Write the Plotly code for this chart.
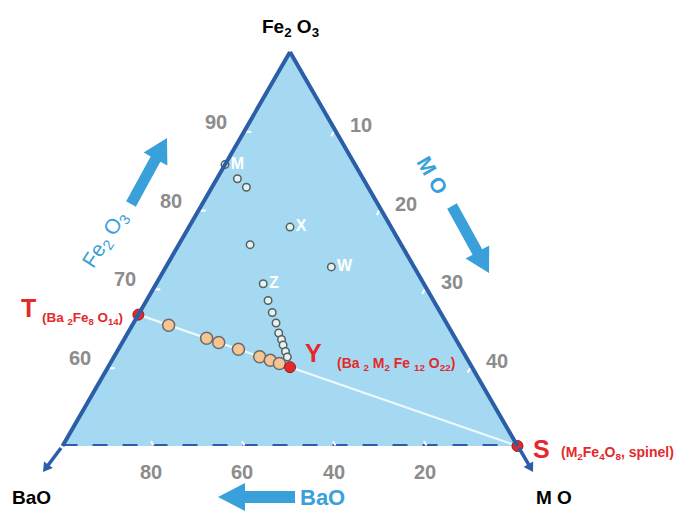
import plotly.graph_objects as go

W, H = 680, 511

# Phase compositions in mol % (Fe2O3, BaO, MO)
phase_names = ["M", "X", "W", "Z"]
phase_fe2o3 = [85.71, 77.78, 72.73, 70.59]
phase_bao = [14.29, 11.11, 9.09, 17.65]
phase_mo = [0.0, 11.11, 18.18, 11.76]

# Intermediate hollow-point compositions
mid_fe2o3 = [83.92, 82.83, 75.55, 68.46, 66.94, 65.61, 64.34, 63.52, 62.82, 61.99, 61.29]
mid_bao = [13.82, 13.38, 16.61, 18.18, 18.48, 18.73, 19.07, 19.17, 19.35, 19.50, 19.65]
mid_mo = [2.26, 3.79, 7.84, 13.36, 14.58, 15.66, 16.59, 17.31, 17.83, 18.51, 19.06]

# Compositions along the T–Y tie line
tie_fe2o3 = [65.33, 63.67, 63.13, 62.27, 61.33, 60.87, 60.47]
tie_bao = [30.67, 27.33, 26.27, 24.53, 22.67, 21.73, 20.93]
tie_mo = [4.0, 9.0, 10.6, 13.2, 16.0, 17.4, 18.6]

# Reference compounds T, Y, S
ref_names = ["T", "Y", "S"]
ref_fe2o3 = [66.67, 60.0, 50.0]
ref_bao = [33.33, 20.0, 0.0]
ref_mo = [0.0, 20.0, 50.0]

# Tick values and labels
fe_ticks = [60, 70, 80, 90]
fe_ticktext = ["60", "70", "80", "90"]
bao_ticks = [10, 20, 30, 40]
bao_ticktext = ["20", "40", "60", "80"]
mo_ticks = [10, 20, 30, 40]
mo_ticktext = ["10", "20", "30", "40"]

EDGE = "#2c5ea8"
FILL = "#a5d9f2"
ARROW = "#3aa0da"
RED = "#e3292b"
GRAYTXT = "#8c8c8c"

# triangle placement (pixels): apex, lower-left, lower-right
X0, X1, YTOP, YBASE = 62, 518, 52, 446
A_MIN = 50

fig = go.Figure()

# dashed base (Fe2O3 = 50 %)
fig.add_trace(go.Scatterternary(
    a=[ref_fe2o3[2], ref_fe2o3[2]], b=[ref_fe2o3[2], ref_bao[2]], c=[ref_mo[0], ref_mo[2]],
    mode="lines", line=dict(color=EDGE, width=4, dash="15px,15px"),
    cliponaxis=False, hoverinfo="skip"))

# T–S tie line
fig.add_trace(go.Scatterternary(
    a=[ref_fe2o3[0], ref_fe2o3[2]], b=[ref_bao[0], ref_bao[2]], c=[ref_mo[0], ref_mo[2]],
    mode="lines", line=dict(color="#eef8fd", width=2.2),
    cliponaxis=False, hoverinfo="skip"))

# hollow points
fig.add_trace(go.Scatterternary(
    a=mid_fe2o3, b=mid_bao, c=mid_mo, mode="markers",
    marker=dict(size=7.5, color="#e4f2f1", line=dict(color="#55605f", width=1.5)),
    cliponaxis=False))

fig.add_trace(go.Scatterternary(
    a=phase_fe2o3, b=phase_bao, c=phase_mo, mode="markers+text",
    text=phase_names, textposition="middle right",
    textfont=dict(family="Liberation Sans", size=16, color="white", weight="bold"),
    marker=dict(size=7.5, color="#e4f2f1", line=dict(color="#55605f", width=1.5)),
    cliponaxis=False))

# tie-line points
fig.add_trace(go.Scatterternary(
    a=tie_fe2o3, b=tie_bao, c=tie_mo, mode="markers",
    marker=dict(size=12, color="#f7c594", line=dict(color="#6b6b6b", width=1.5)),
    cliponaxis=False))

# reference compounds
fig.add_trace(go.Scatterternary(
    a=ref_fe2o3, b=ref_bao, c=ref_mo, mode="markers",
    marker=dict(size=11, color=RED, line=dict(color="#9a1a1a", width=1)),
    cliponaxis=False))

axis_common = dict(
    showgrid=False, ticks="inside", ticklen=5, tickwidth=1.5, tickcolor="white",
    showticklabels=False, linecolor=EDGE, linewidth=4, title=dict(text=""),
    tickmode="array",
)

fig.update_layout(
    width=W, height=H, autosize=False,
    margin=dict(l=0, r=0, t=0, b=0),
    paper_bgcolor="white", showlegend=False,
    ternary=dict(
        sum=100, bgcolor=FILL,
        domain=dict(x=[X0 / W, X1 / W], y=[(H - YBASE) / H, (H - YTOP) / H]),
        aaxis=dict(axis_common, min=A_MIN, tickvals=fe_ticks),
        baxis=dict(axis_common, min=0, tickvals=bao_ticks, showline=False),
        caxis=dict(axis_common, min=0, tickvals=mo_ticks),
    ),
)


def px(x, y):
    return x / W, 1 - y / H


def tern_px(a, c):
    # pixel position of a composition inside the triangle
    la = (a - A_MIN) / (100 - A_MIN)
    lc = c / (100 - A_MIN)
    return X0 + (X1 - X0) * (lc + 0.5 * la), YBASE - (YBASE - YTOP) * la


def label(x, y, text, size, color, bold=True, angle=0, xanchor="center"):
    xp, yp = px(x, y)
    fig.add_annotation(
        x=xp, y=yp, xref="paper", yref="paper", text=text, showarrow=False,
        xanchor=xanchor, yanchor="middle", textangle=angle,
        font=dict(family="Liberation Sans", size=size, color=color,
                  weight="bold" if bold else "normal"))


def arrow(tail, head, shaft_w, head_w, head_len, color):
    # filled block arrow drawn as a closed path
    (x0, y0), (x1, y1) = tail, head
    dx, dy = x1 - x0, y1 - y0
    n = (dx * dx + dy * dy) ** 0.5
    ux, uy = dx / n, dy / n
    nx, ny = -uy, ux
    bx, by = x1 - ux * head_len, y1 - uy * head_len
    pts = [
        (x0 + nx * shaft_w / 2, y0 + ny * shaft_w / 2),
        (bx + nx * shaft_w / 2, by + ny * shaft_w / 2),
        (bx + nx * head_w / 2, by + ny * head_w / 2),
        (x1, y1),
        (bx - nx * head_w / 2, by - ny * head_w / 2),
        (bx - nx * shaft_w / 2, by - ny * shaft_w / 2),
        (x0 - nx * shaft_w / 2, y0 - ny * shaft_w / 2),
    ]
    path = "M " + " L ".join("%.5f,%.5f" % px(x, y) for x, y in pts) + " Z"
    fig.add_shape(type="path", xref="paper", yref="paper", path=path,
                  fillcolor=color, line=dict(width=0))


# axis tick labels
for v, t in zip(fe_ticks, fe_ticktext):
    x, y = tern_px(v, 0)
    label(x - 28, y - 9, t, 20, GRAYTXT)
for v, t in zip(mo_ticks, mo_ticktext):
    x, y = tern_px(100 - v, v)
    label(x + 25, y - 6, t, 20, GRAYTXT)
for v, t in zip(bao_ticks, bao_ticktext):
    x, y = tern_px(A_MIN, 100 - A_MIN - v)
    label(x - 2, y + 26, t, 20, GRAYTXT)

# corner titles
label(290, 28, "Fe<sub>2</sub> O<sub>3</sub>", 19, "black")
label(31, 497, "BaO", 19, "black")
label(554, 497, "M O", 19, "black")

# corner arrows
arrow((61, 448), (43, 472), 3.5, 11, 9, EDGE)
arrow((519, 448), (533, 472), 3.5, 11, 9, EDGE)

# direction arrows and labels
arrow((131, 204), (167, 138), 11, 27, 24, ARROW)
label(105, 240, "Fe<sub>2</sub> O<sub>3</sub>", 21, ARROW, bold=False, angle=-57)
arrow((452, 206), (489, 273), 11, 27, 24, ARROW)
label(433, 175, "M O", 21, ARROW, angle=60)
arrow((295, 497), (218, 497), 12, 28, 27, ARROW)
label(322, 497, "BaO", 22, ARROW)

# compound labels
label(28, 308, "T", 25, RED)
label(40, 318, "(Ba <sub>2</sub>Fe<sub>8</sub> O<sub>14</sub>)", 13.5, RED, xanchor="left")
label(313, 353, "Y", 25, RED)
label(335, 364, "(Ba <sub>2</sub> M<sub>2</sub> Fe <sub>12</sub> O<sub>22</sub>)", 14, RED,
      xanchor="left")
label(541, 449, "S", 25, RED)
label(559, 453, "(M<sub>2</sub>Fe<sub>4</sub>O<sub>8</sub>, spinel)", 14, RED, xanchor="left")

fig.write_html("out.html")
